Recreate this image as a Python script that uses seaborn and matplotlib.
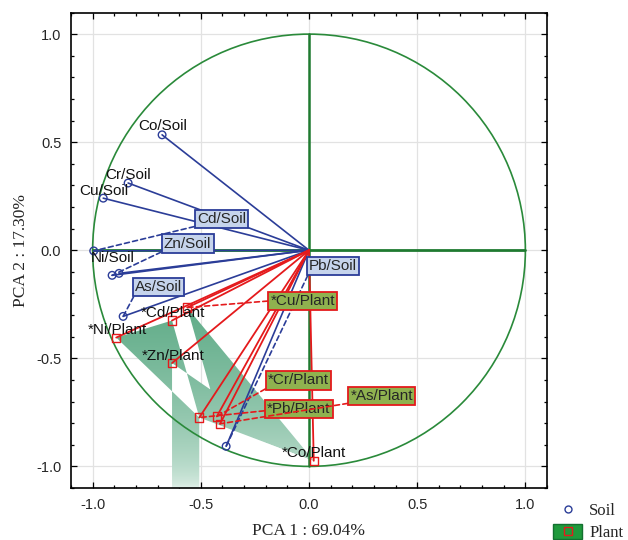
import numpy as np
import pandas as pd
import seaborn as sns
import matplotlib.pyplot as plt
from matplotlib.path import Path
from matplotlib.patches import PathPatch, Patch, Circle
from matplotlib.lines import Line2D
from matplotlib.ticker import MultipleLocator, FormatStrFormatter

# loadings
soil_names = ['Co/Soil', 'Cr/Soil', 'Cu/Soil', 'Cd/Soil', 'Zn/Soil', 'Ni/Soil', 'As/Soil', 'Pb/Soil']
soil_pc1 = [-0.679, -0.836, -0.951, -0.995, -0.910, -0.878, -0.859, -0.383]
soil_pc2 = [0.534, 0.311, 0.241, -0.003, -0.116, -0.107, -0.306, -0.907]

plant_names = ['*Cu/Plant', '*Cd/Plant', '*Ni/Plant', '*Zn/Plant', '*Cr/Plant', '*Pb/Plant', '*As/Plant', '*Co/Plant']
plant_pc1 = [-0.563, -0.633, -0.891, -0.633, -0.426, -0.507, -0.411, 0.022]
plant_pc2 = [-0.265, -0.325, -0.404, -0.522, -0.769, -0.774, -0.803, -0.974]

xlabel_txt = 'PCA 1 : 69.04%'
ylabel_txt = 'PCA 2 : 17.30%'
legend_labels = ['Soil', 'Plant']

soil = pd.DataFrame({'name': soil_names, 'pc1': soil_pc1, 'pc2': soil_pc2})
plant = pd.DataFrame({'name': plant_names, 'pc1': plant_pc1, 'pc2': plant_pc2})

# label placement (text centre) + which ones get a box and leader line
soil_lab = {'Co/Soil': (-0.676, 0.575), 'Cr/Soil': (-0.835, 0.349), 'Cu/Soil': (-0.949, 0.276),
            'Ni/Soil': (-0.907, -0.035), 'Cd/Soil': (-0.404, 0.145), 'Zn/Soil': (-0.561, 0.030),
            'As/Soil': (-0.695, -0.170), 'Pb/Soil': (0.111, -0.072)}
soil_box = {'Cd/Soil': (0, 0), 'Zn/Soil': (0, 0), 'As/Soil': (0, 0), 'Pb/Soil': (0, 0)}
plant_lab = {'*Cu/Plant': (-0.028, -0.234), '*Cd/Plant': (-0.630, -0.290), '*Ni/Plant': (-0.887, -0.367),
             '*Zn/Plant': (-0.630, -0.487), '*Cr/Plant': (-0.048, -0.602), '*Pb/Plant': (-0.047, -0.735),
             '*As/Plant': (0.337, -0.674), '*Co/Plant': (0.023, -0.936)}
plant_box = {'*Cu/Plant': (0, 0.5), '*Cr/Plant': (0, 0), '*As/Plant': (0, 0), '*Pb/Plant': (0, 0.4)}

# shaded triangles between plant points (sign = winding direction)
shade_groups = [(['*Ni/Plant', '*Cd/Plant', '*Pb/Plant'], 1),
                (['*Cu/Plant', '*As/Plant', '*Co/Plant'], -1),
                (['*Zn/Plant', '*Pb/Plant', '*Co/Plant'], -1)]

BLUE = '#2b3d98'
RED = '#e41a1c'
GREEN = '#1f7a30'

sns.set_style('ticks')
plt.rcParams['font.family'] = ['Liberation Sans', 'DejaVu Sans']
plt.rcParams['axes.unicode_minus'] = False

fig = plt.figure(figsize=(6.28, 5.40), dpi=100)
ax = fig.add_axes([71 / 628, 52 / 540, 476 / 628, 475.5 / 540])
lim = 1.1

# grid
ax.set_axisbelow(True)
ax.grid(True, color='#e2e2e2', lw=0.9)

# shaded area: gradient image clipped to a compound path
pp = plant.set_index('name')


def poly(pts, sign):
    pts = np.asarray(pts, dtype=float)
    area = 0.5 * np.sum(pts[:, 0] * np.roll(pts[:, 1], -1) - np.roll(pts[:, 0], -1) * pts[:, 1])
    if np.sign(area) != sign:
        pts = pts[::-1]
    verts = list(pts) + [pts[0]]
    codes = [Path.MOVETO] + [Path.LINETO] * (len(pts) - 1) + [Path.CLOSEPOLY]
    return verts, codes


verts, codes = [], []
for names, sign in shade_groups:
    v, c = poly(pp.loc[names, ['pc1', 'pc2']].values, sign)
    verts += v
    codes += c
zn = pp.loc['*Zn/Plant']
pb = pp.loc['*Pb/Plant']
v, c = poly([[zn.pc1, zn.pc2], [pb.pc1, pb.pc2], [pb.pc1, -lim], [zn.pc1, -lim]], -1)
verts += v
codes += c
clip = PathPatch(Path(verts, codes), transform=ax.transData, fc='none', ec='none')

top = np.array([96, 172, 136]) / 255
bot = np.array([232, 244, 238]) / 255
t = np.sqrt(np.linspace(0, 1, 256))[:, None]
grad = (bot[None, :] * (1 - t) + top[None, :] * t)[:, None, :]
im = ax.imshow(grad, extent=[-1.0, 0.1, -lim, -0.25], origin='lower', aspect='auto', zorder=1,
               interpolation='bilinear')
im.set_clip_path(clip)

# unit circle and axes through origin
ax.add_patch(Circle((0, 0), 1.0, fill=False, ec='#2a8a3a', lw=1.2, zorder=2))
ax.plot([-1, 1], [0, 0], color=GREEN, lw=2.0, zorder=2)
ax.plot([0, 0], [-1, 1], color=GREEN, lw=1.8, zorder=2)

# rays from origin
for x, y in zip(soil.pc1, soil.pc2):
    ax.plot([0, x], [0, y], color=BLUE, lw=1.2, zorder=3)
for x, y in zip(plant.pc1, plant.pc2):
    ax.plot([0, x], [0, y], color=RED, lw=1.3, zorder=3)

sns.scatterplot(data=soil, x='pc1', y='pc2', marker='o', s=30, facecolor='none', edgecolor=BLUE,
                linewidth=1.0, ax=ax, zorder=4, legend=False)
sns.scatterplot(data=plant, x='pc1', y='pc2', marker='s', s=34, facecolor='none', edgecolor=RED,
                linewidth=1.0, ax=ax, zorder=4, legend=False)

# labels
z = 6
for df, labs, boxes, ec, fc in [(soil, soil_lab, soil_box, BLUE, '#c6d4ec'),
                                (plant, plant_lab, plant_box, RED, '#8fb24f')]:
    for name, x, y in zip(df.name, df.pc1, df.pc2):
        tx, ty = labs[name]
        if name in boxes:
            ax.annotate(name, xy=(x, y), xytext=(tx, ty), ha='center', va='center', fontsize=11,
                        zorder=z,
                        bbox=dict(boxstyle='square,pad=0.15', fc=fc, ec=ec, lw=1.3),
                        arrowprops=dict(arrowstyle='-', color=ec, lw=1.2, linestyle=(0, (3, 2)),
                                        relpos=boxes[name], shrinkA=0, shrinkB=0))
            z += 1
        else:
            ax.text(tx, ty, name, ha='center', va='center', fontsize=11, color='#111111', zorder=5)

ax.set_xlim(-lim, lim)
ax.set_ylim(-lim, lim)
ax.xaxis.set_major_locator(MultipleLocator(0.5))
ax.yaxis.set_major_locator(MultipleLocator(0.5))
ax.xaxis.set_minor_locator(MultipleLocator(0.1))
ax.yaxis.set_minor_locator(MultipleLocator(0.1))
ax.xaxis.set_major_formatter(FormatStrFormatter('%.1f'))
ax.yaxis.set_major_formatter(FormatStrFormatter('%.1f'))
ax.tick_params(which='both', direction='in', top=True, right=True, width=0.9, color='black')
ax.tick_params(which='major', length=4.5, labelsize=10.5, pad=7)
ax.tick_params(which='minor', length=2.5)
for s in ax.spines.values():
    s.set_color('black')
    s.set_linewidth(1.2)

ax.set_xlabel(xlabel_txt, family='Liberation Serif', fontsize=12.5, labelpad=8)
ax.set_ylabel(ylabel_txt, family='Liberation Serif', fontsize=12.5, labelpad=5)

# legend outside, lower right
soil_h = Line2D([], [], ls='', marker='o', mfc='none', mec=BLUE, ms=5, mew=1.0)
plant_h = (Patch(fc='#1f9a3c', ec='#137030'),
           Line2D([], [], ls='', marker='s', mfc='none', mec=RED, ms=6, mew=1.0))
fig.legend([soil_h, plant_h], legend_labels, loc='lower left', bbox_to_anchor=(0.880, -0.004),
           frameon=False, prop={'family': 'Liberation Serif', 'size': 12}, handlelength=1.7,
           handleheight=0.95, handletextpad=0.45, labelspacing=0.3, borderpad=0.05, borderaxespad=0)

fig.savefig('out.png', dpi=100)
